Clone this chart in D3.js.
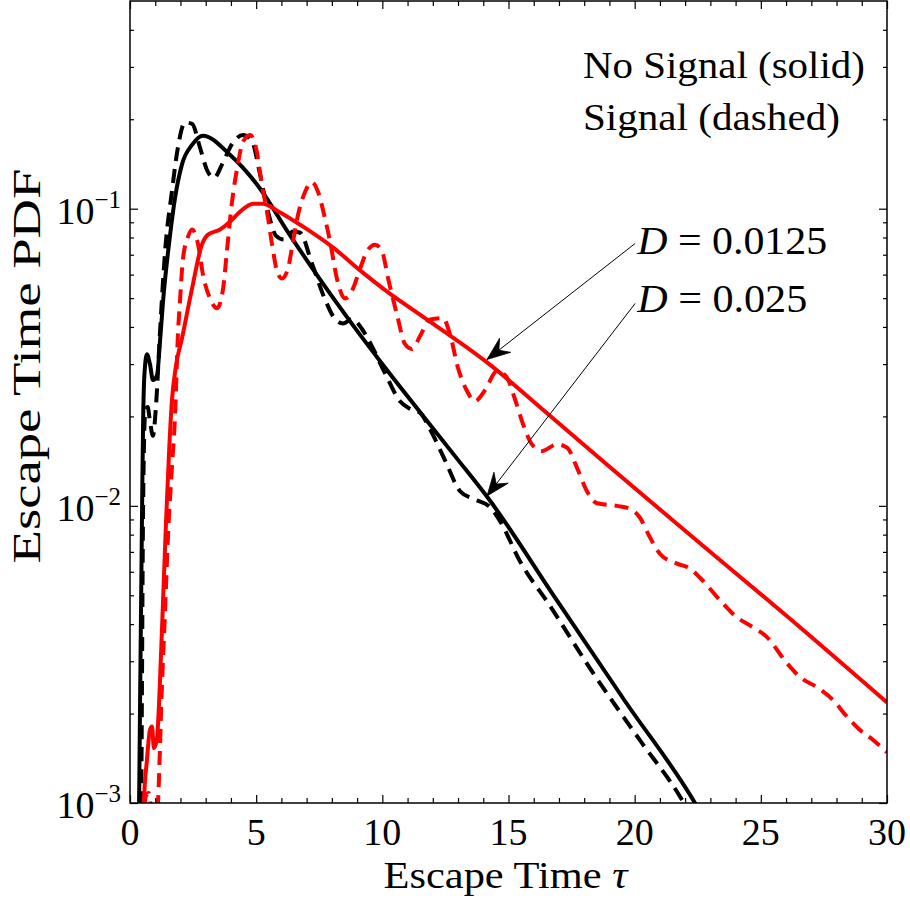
<!DOCTYPE html>
<html><head><meta charset="utf-8">
<script src="https://cdn.jsdelivr.net/npm/d3@7"></script>
<style>
body{margin:0;background:#fff;}
svg{display:block;}
text{font-family:"Liberation Serif","Times New Roman",serif;fill:#000;}
</style>
</head><body>
<svg id="chart" width="910" height="899"></svg>
<script>
// ---------------- data ----------------
const xDomain = [0, 30];
const yDomain = [1e-3, 0.5];
const xMajorTicks = [0, 5, 10, 15, 20, 25, 30];
const yMajorTicks = [1e-3, 1e-2, 1e-1];
const yTickExponents = ["\u22123", "\u22122", "\u22121"];

// D = 0.025, no signal (black solid)
const blackSolid = [[0.30,0.0007],[0.36,0.001],[0.40,0.00222],[0.48,0.01],[0.52,0.0193],[0.57,0.0275],[0.67,0.0324],[0.79,0.030],[0.91,0.0265],[1.07,0.0275],[1.19,0.0358],[1.31,0.0488],[1.59,0.0818],[1.78,0.108],[2.06,0.141],[2.46,0.164],[2.89,0.176],[3.96,0.152],[5.15,0.117],[6.22,0.0844],[7.53,0.0578],[8.84,0.0405],[10.19,0.0286],[11.49,0.0207],[12.88,0.0147],[14.27,0.0104],[16.77,0.00502],[19.62,0.00220],[22.39,0.001],[22.7,0.0009]];

// D = 0.025, signal (black dashed)
const blackDashed = [[0.38,0.0007],[0.44,0.001],[0.52,0.01],[0.60,0.0205],[0.70,0.0215],[0.79,0.0193],[0.91,0.0172],[1.03,0.0217],[1.19,0.0386],[1.39,0.0718],[1.66,0.114],[1.90,0.161],[2.18,0.195],[2.46,0.193],[2.77,0.161],[3.05,0.135],[3.33,0.127],[3.65,0.141],[4.04,0.165],[4.48,0.177],[4.84,0.168],[5.15,0.131],[5.47,0.0977],[5.79,0.081],[6.10,0.0787],[6.46,0.0838],[6.74,0.083],[7.21,0.0654],[7.73,0.0495],[8.13,0.0425],[8.44,0.0411],[8.80,0.0425],[9.2,0.0393],[9.59,0.0344],[10.11,0.0279],[10.70,0.0225],[11.1,0.0212],[11.49,0.0206],[11.89,0.0181],[12.49,0.0142],[13.08,0.0112],[13.67,0.0105],[14.27,0.0099],[14.66,0.0089],[15.46,0.0065],[16.65,0.0046],[18.23,0.00284],[20.2,0.00163],[21.8,0.00105],[22.1,0.00095]];

// D = 0.0125, no signal (red solid)
const redSolid = [[0.50,0.0007],[0.55,0.001],[0.67,0.00139],[0.79,0.00176],[0.87,0.00181],[0.95,0.00153],[1.07,0.00165],[1.19,0.00259],[1.31,0.0048],[1.43,0.0089],[1.55,0.0153],[1.66,0.0225],[1.82,0.0295],[2.06,0.0366],[2.46,0.0539],[2.85,0.0757],[3.09,0.0818],[3.57,0.0851],[3.96,0.0904],[4.36,0.0977],[4.88,0.104],[5.27,0.104],[5.83,0.0985],[6.86,0.0870],[8.05,0.074],[9.12,0.062],[10.19,0.0526],[11.49,0.044],[14.15,0.0304],[16.53,0.0205],[18.91,0.01374],[22.47,0.00763],[26.04,0.00425],[30,0.00218]];

// D = 0.0125, signal (red dashed)
const redDashed = [[0.52,0.0007],[0.62,0.00105],[0.74,0.00108],[0.86,0.0009],[0.98,0.0007],[1.11,0.001],[1.27,0.00253],[1.39,0.00445],[1.51,0.00805],[1.66,0.0134],[1.78,0.0197],[1.90,0.0378],[1.98,0.0488],[2.10,0.0680],[2.30,0.0805],[2.46,0.0851],[2.70,0.0757],[2.89,0.0601],[3.17,0.0499],[3.45,0.0462],[3.69,0.0539],[3.84,0.0718],[4.04,0.105],[4.24,0.136],[4.48,0.168],[4.76,0.177],[5.03,0.155],[5.23,0.120],[5.43,0.0977],[5.63,0.0757],[5.83,0.0615],[6.02,0.0582],[6.26,0.0629],[6.46,0.0775],[6.66,0.0954],[6.94,0.114],[7.21,0.123],[7.45,0.114],[7.73,0.0925],[7.93,0.0775],[8.20,0.0582],[8.52,0.0499],[8.84,0.0539],[9.12,0.0629],[9.39,0.0718],[9.71,0.0757],[9.99,0.0718],[10.23,0.0582],[10.58,0.0440],[10.90,0.0350],[11.18,0.0337],[11.49,0.0372],[11.89,0.0424],[12.41,0.0428],[12.68,0.0378],[13.0,0.0291],[13.36,0.0243],[13.67,0.0225],[14.07,0.0245],[14.55,0.0285],[14.94,0.0270],[15.26,0.0228],[15.58,0.0188],[15.93,0.0161],[16.33,0.0153],[16.92,0.0161],[17.32,0.0157],[17.72,0.0134],[18.11,0.0112],[18.51,0.0102],[19.30,0.0100],[19.82,0.00977],[20.21,0.00912],[20.61,0.00782],[21.0,0.0069],[21.68,0.00639],[22.2,0.00615],[22.59,0.00573],[23.5,0.00469],[24.06,0.00421],[24.57,0.00396],[25.25,0.00361],[26.04,0.00295],[26.56,0.00265],[27.23,0.00245],[27.86,0.00222],[28.42,0.00195],[28.93,0.00176],[29.45,0.00163],[30,0.00148]];

const seriesList = [
  {name:"blackSolid", data:blackSolid, color:"#000000", dash:null},
  {name:"blackDashed", data:blackDashed, color:"#000000", dash:"14,8"},
  {name:"redSolid", data:redSolid, color:"#ff0000", dash:null},
  {name:"redDashed", data:redDashed, color:"#ff0000", dash:"14,8"}
];

const legendLines = ["No Signal (solid)", "Signal (dashed)"];
const legendPos = [[17.95, 0.275], [17.95, 0.184]];
const annotations = [
  {label:"0.0125", text:[20.1, 0.0706], from:[20.02, 0.0764], to:[14.15, 0.0311], len:190},
  {label:"0.025",  text:[20.1, 0.0448], from:[20.02, 0.048],  to:[14.15, 0.0108], len:170}
];

// ---------------- layout ----------------
const W = 910, H = 899;
const plot = {left:130, right:887, top:1, bottom:803};
const svg = d3.select("#chart");
svg.append("rect").attr("width", W).attr("height", H).attr("fill", "#fff");

const x = d3.scaleLinear().domain(xDomain).range([plot.left, plot.right]);
const y = d3.scaleLog().domain(yDomain).range([plot.bottom, plot.top]);

svg.append("clipPath").attr("id","clip").append("rect")
  .attr("x", plot.left).attr("y", plot.top)
  .attr("width", plot.right-plot.left).attr("height", plot.bottom-plot.top);

// curves
const line = d3.line().x(d => x(d[0])).y(d => y(d[1])).curve(d3.curveMonotoneX);
const gLines = svg.append("g").attr("clip-path","url(#clip)");
seriesList.forEach(s => {
  gLines.append("path").datum(s.data)
    .attr("d", line)
    .attr("fill","none")
    .attr("stroke", s.color)
    .attr("stroke-width", 4)
    .attr("stroke-linejoin","round")
    .attr("stroke-dasharray", s.dash);
});

// ticks
const xMinor = d3.range(1, 30).filter(v => v % 5 !== 0);
const yMinor = [];
yMajorTicks.forEach(d => { for (let k = 2; k <= 9; k++) { const v = k*d; if (v < yDomain[1]) yMinor.push(v); } });

function styleAxis(g){ g.select(".domain").remove(); g.selectAll("line").attr("stroke","#000").attr("stroke-width",1.2); g.selectAll("text").remove(); }

svg.append("g").attr("transform",`translate(0,${plot.bottom})`).call(d3.axisBottom(x).tickValues(xMajorTicks).tickSize(-8).tickSizeOuter(0)).call(styleAxis);
svg.append("g").attr("transform",`translate(0,${plot.bottom})`).call(d3.axisBottom(x).tickValues(xMinor).tickSize(-5).tickSizeOuter(0)).call(styleAxis);
svg.append("g").attr("transform",`translate(0,${plot.top})`).call(d3.axisTop(x).tickValues(xMajorTicks).tickSize(-8).tickSizeOuter(0)).call(styleAxis);
svg.append("g").attr("transform",`translate(0,${plot.top})`).call(d3.axisTop(x).tickValues(xMinor).tickSize(-5).tickSizeOuter(0)).call(styleAxis);
svg.append("g").attr("transform",`translate(${plot.left},0)`).call(d3.axisLeft(y).tickValues(yMajorTicks).tickSize(-8).tickSizeOuter(0)).call(styleAxis);
svg.append("g").attr("transform",`translate(${plot.left},0)`).call(d3.axisLeft(y).tickValues(yMinor).tickSize(-4).tickSizeOuter(0)).call(styleAxis);
svg.append("g").attr("transform",`translate(${plot.right},0)`).call(d3.axisRight(y).tickValues(yMajorTicks).tickSize(-8).tickSizeOuter(0)).call(styleAxis);
svg.append("g").attr("transform",`translate(${plot.right},0)`).call(d3.axisRight(y).tickValues(yMinor).tickSize(-4).tickSizeOuter(0)).call(styleAxis);

// frame
svg.append("rect").attr("x", plot.left).attr("y", plot.top)
  .attr("width", plot.right-plot.left).attr("height", plot.bottom-plot.top)
  .attr("fill","none").attr("stroke","#000").attr("stroke-width",1.5);

// x tick labels
svg.append("g").selectAll("text").data(xMajorTicks).join("text")
  .attr("x", d => x(d)).attr("y", 845)
  .attr("text-anchor","middle").attr("font-size", 38)
  .text(d => d);

// y tick labels
yMajorTicks.forEach((v, i) => {
  const t = svg.append("text").attr("x", 121).attr("y", y(v) + 15)
    .attr("text-anchor","end");
  t.append("tspan").attr("font-size", 38).text("10");
  t.append("tspan").attr("font-size", 25).attr("dy", -16).text(yTickExponents[i]);
});

// axis titles
svg.append("text").attr("x", (plot.left+plot.right)/2 - 3).attr("y", 888)
  .attr("text-anchor","middle").attr("font-size", 38)
  .attr("textLength", 244).attr("lengthAdjust","spacingAndGlyphs")
  .html('Escape Time <tspan font-style="italic">\u03c4</tspan>');

svg.append("text").attr("transform","translate(40,366) rotate(-90)")
  .attr("text-anchor","middle").attr("font-size", 40)
  .attr("textLength", 395).attr("lengthAdjust","spacingAndGlyphs")
  .text("Escape Time PDF");

// legend-like text
legendLines.forEach((s, i) => {
  svg.append("text").attr("x", x(legendPos[i][0])).attr("y", y(legendPos[i][1]))
    .attr("font-size", 37)
    .attr("textLength", i === 0 ? 282 : 257).attr("lengthAdjust","spacingAndGlyphs")
    .text(s);
});

// annotations with arrows
annotations.forEach(a => {
  const t = svg.append("text").attr("x", x(a.text[0])).attr("y", y(a.text[1]))
    .attr("font-size", 40)
    .attr("textLength", a.len).attr("lengthAdjust","spacingAndGlyphs");
  t.append("tspan").attr("font-style","italic").text("D");
  t.append("tspan").text(" = " + a.label);
  const x1 = x(a.from[0]), y1 = y(a.from[1]), x2 = x(a.to[0]), y2 = y(a.to[1]);
  svg.append("line").attr("x1", x1).attr("y1", y1).attr("x2", x2).attr("y2", y2)
    .attr("stroke","#000").attr("stroke-width", 1);
  const ang = Math.atan2(y2 - y1, x2 - x1);
  const L = 23, Wd = 9, notch = 15;
  const ux = Math.cos(ang), uy = Math.sin(ang), px = -uy, py = ux;
  const p1 = [x2 - ux*L + px*Wd, y2 - uy*L + py*Wd];
  const p2 = [x2 - ux*notch, y2 - uy*notch];
  const p3 = [x2 - ux*L - px*Wd, y2 - uy*L - py*Wd];
  svg.append("path")
    .attr("d", `M${x2},${y2}L${p1[0]},${p1[1]}L${p2[0]},${p2[1]}L${p3[0]},${p3[1]}Z`)
    .attr("fill","#000").attr("stroke","#000").attr("stroke-width",0.8).attr("stroke-linejoin","miter");
});
</script>
</body></html>
